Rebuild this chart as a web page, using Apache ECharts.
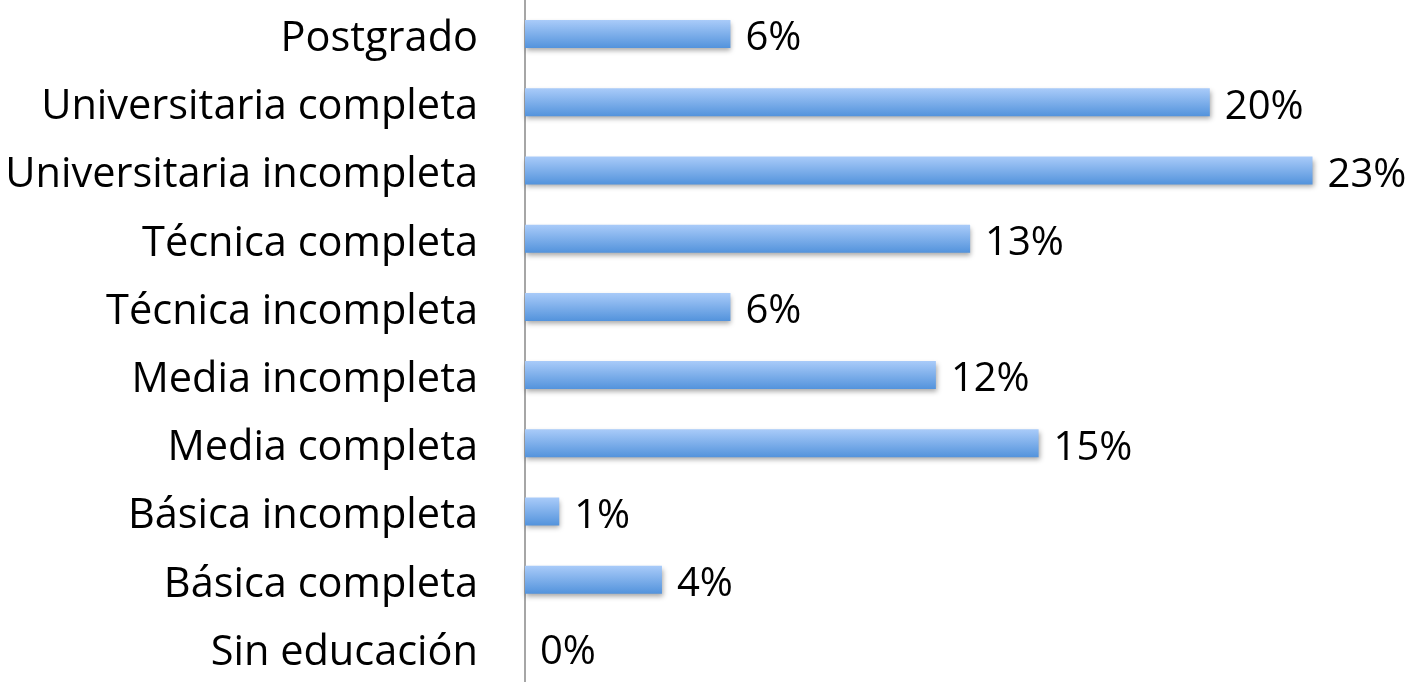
<!DOCTYPE html>
<html>
<head>
<meta charset="utf-8">
<script src="https://cdn.jsdelivr.net/npm/echarts@6/dist/echarts.min.js"></script>
<style>
  html, body { margin: 0; padding: 0; background: #fff; }
  #main { width: 1406px; height: 682px; }
</style>
</head>
<body>
<div id="main"></div>
<script>
// top to bottom, as in the picture
const categories = [
  'Postgrado',
  'Universitaria completa',
  'Universitaria incompleta',
  'Técnica completa',
  'Técnica incompleta',
  'Media incompleta',
  'Media completa',
  'Básica incompleta',
  'Básica completa',
  'Sin educación'
];
const percents = [6, 20, 23, 13, 6, 12, 15, 1, 4, 0];

const chart = echarts.init(document.getElementById('main'));

const barColor = new echarts.graphic.LinearGradient(0, 0, 0, 1, [
  {offset: 0, color: '#a9cbf9'},
  {offset: 1, color: '#5393dc'}
]);

chart.setOption({
  animation: false,
  grid: {left: 525, right: 25, top: -1, height: 687, containLabel: false},
  xAxis: {
    type: 'value',
    min: 0,
    max: 25,
    show: false
  },
  yAxis: {
    type: 'category',
    inverse: true,
    data: categories,
    axisLine: {show: true, lineStyle: {color: '#a6a6a6', width: 2}},
    axisTick: {show: false},
    axisLabel: {
      margin: 47,
      formatter: v => '{t|' + v + '}',
      rich: {
        t: {
          color: '#000',
          fontFamily: 'Open Sans',
          fontSize: 41.5,
          padding: [10, 0, 0, 0]
        }
      }
    }
  },
  series: [{
    type: 'bar',
    data: percents,
    barCategoryGap: '59%',
    itemStyle: {
      color: barColor,
      shadowColor: 'rgba(0,0,0,0.35)',
      shadowBlur: 5,
      shadowOffsetY: 3,
      shadowOffsetX: 1
    },
    label: {
      show: true,
      position: 'right',
      distance: 15,
      offset: [0, 5],
      formatter: '{c}%',
      color: '#000',
      fontFamily: 'Open Sans',
      fontSize: 40
    }
  }]
});
</script>
</body>
</html>
